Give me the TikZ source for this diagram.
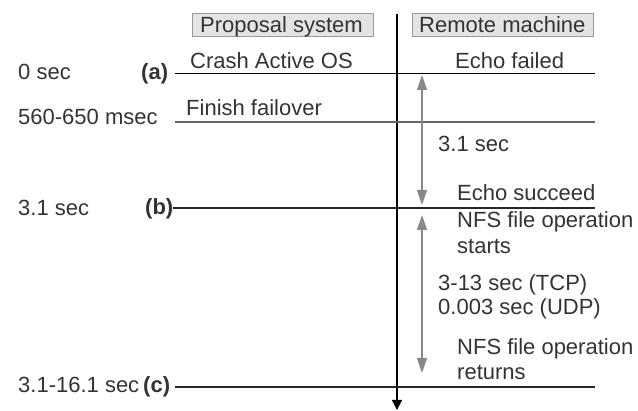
\documentclass[tikz,border=0pt]{standalone}
\usepackage{fontspec}
\setmainfont{Liberation Sans}
\usetikzlibrary{arrows.meta}
\definecolor{txt}{HTML}{333333}
\definecolor{hdrfill}{HTML}{E4E4E4}
\definecolor{hdrline}{HTML}{999999}
\definecolor{garrow}{HTML}{888888}
\begin{document}
\begin{tikzpicture}[x=1pt,y=-1pt,
  lbl/.style={anchor=base west,inner sep=0pt,text=txt,font=\fontsize{22}{26}\selectfont},
  blbl/.style={lbl,font=\fontsize{22}{26}\selectfont\bfseries},
  hdr/.style={draw=hdrline,fill=hdrfill,line width=1pt},
  tline/.style={line width=1.3pt},
  span/.style={draw=garrow,line width=1.3pt,{Triangle[length=15pt,width=10pt]}-{Triangle[length=15pt,width=10pt]}},
  axis/.style={line width=1.4pt,-{Triangle[length=10pt,width=10pt]}}]
\useasboundingbox (0,0) rectangle (638,411);
% headers
\draw[hdr] (192,14) rectangle (373,37);
\node[lbl] (hp) at (200,33) {Proposal system};
\draw[hdr] (412,14) rectangle (593,37);
\node[lbl] (hr) at (419,33) {Remote machine};
% axis
\coordinate (axT) at (397,14);
\coordinate (axB) at (397,410);
\draw[axis] (axT) -- (axB);
% time lines
\coordinate (aL) at (175,73.5); \coordinate (aR) at (595,73.5);
\coordinate (fL) at (175,122); \coordinate (fR) at (595,122);
\coordinate (bL) at (173,208); \coordinate (bR) at (595,208);
\coordinate (cL) at (175,387); \coordinate (cR) at (595,387);
\draw[tline,black] (aL) -- (aR);
\draw[tline,color=black!60] (fL) -- (fR);
\draw[tline,color=black!85] (bL) -- (bR);
\draw[tline,color=black!85] (cL) -- (cR);
% spans
\coordinate (s1T) at (422,75); \coordinate (s1B) at (422,205);
\coordinate (s2T) at (422,215); \coordinate (s2B) at (422,373);
\draw[span] (s1T) -- (s1B);
\draw[span] (s2T) -- (s2B);
% left labels
\node[lbl] (t0) at (18,80) {0 sec};
\node[blbl] (la) at (141,80) {(a)};
\node[lbl] (t1) at (18,125) {560-650 msec};
\node[lbl] (t2) at (18,216) {3.1 sec};
\node[blbl] (lb) at (145,215) {(b)};
\node[lbl] (t3) at (18,393) {3.1-16.1 sec};
\node[blbl] (lc) at (143,393) {(c)};
% proposal system events
\node[lbl] (e1) at (190,69) {Crash Active OS};
\node[lbl] (e2) at (186,116) {Finish failover};
% remote machine events
\node[lbl] (r1) at (455,69) {Echo failed};
\node[lbl] (r2) at (438,152) {3.1 sec};
\node[lbl] (r3) at (457,201) {Echo succeed};
\node[lbl] (r4) at (457,228) {NFS file operation};
\node[lbl] (r5) at (457,254) {starts};
\node[lbl] (r6) at (438,291) {3-13 sec (TCP)};
\node[lbl] (r7) at (438,315) {0.003 sec (UDP)};
\node[lbl] (r8) at (457,355) {NFS file operation};
\node[lbl] (r9) at (457,380) {returns};
\end{tikzpicture}
\end{document}
